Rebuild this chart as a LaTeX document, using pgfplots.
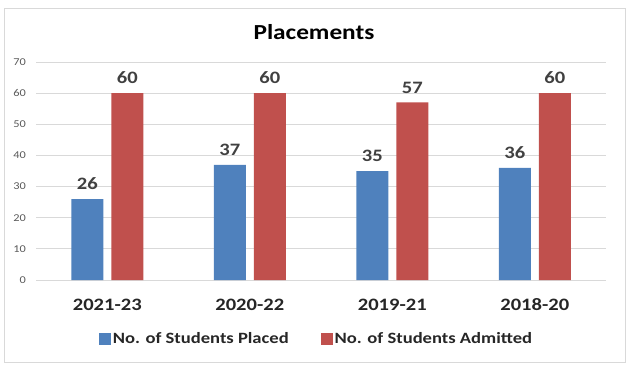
\documentclass[border=0pt]{standalone}
\usepackage{fontspec}
\setmainfont{Carlito}[FakeStretch=1.18]
\usepackage{pgfplots}
\pgfplotsset{compat=1.18}
\definecolor{cblue}{HTML}{4F81BD}
\definecolor{cred}{HTML}{C0504D}
\definecolor{gridc}{HTML}{D9D9D9}
\definecolor{tickc}{HTML}{595959}
\definecolor{lab}{HTML}{404040}
\begin{document}
\begin{tikzpicture}[x=1bp,y=1bp]
\path (0,0) rectangle (630,370);
\draw[gridc, line width=0.75bp] (4,8) rectangle (625,362);
\node[font=\fontsize{21.5}{25}\selectfont\bfseries, text=black] at (314,338) {Placements};
\begin{axis}[
  at={(36bp,90bp)}, anchor=south west,
  scale only axis, width=570bp, height=218bp,
  xmin=-0.5, xmax=3.5, ymin=0, ymax=70,
  ytick={0,10,...,70},
  xtick={0,1,2,3},
  xticklabels={2021-23,2020-22,2019-21,2018-20},
  axis line style={draw=none},
  ymajorgrids, grid style={gridc, line width=0.75bp},
  extra y ticks={0}, extra y tick style={yticklabels={}, grid style={gridc, line width=0.9bp}},
  major tick length=0pt,
  /pgf/number format/assume math mode=true,
  yticklabel style={font=\fontsize{10.5}{12}\selectfont, text=tickc, anchor=east, inner sep=0pt, xshift=-10bp},
  xticklabel style={font=\fontsize{17.5}{20}\selectfont\bfseries, text=black!85, anchor=base, inner sep=0pt, yshift=-30bp},
  ybar, bar width=32bp,
  nodes near coords,
  every node near coord/.append style={font=\fontsize{17.5}{20}\selectfont\bfseries, text=lab, anchor=south, inner sep=0pt, yshift=9bp},
  legend columns=2,
  legend style={draw=none, fill=none, at={(0.492,-0.27)}, anchor=center,
    font=\fontsize{15.8}{20}\selectfont\bfseries, text=black!85,
    nodes={inner xsep=2bp},
    /tikz/every even column/.append style={column sep=30bp}},
  legend image code/.code={\fill[#1] (0bp,-6bp) rectangle (12bp,6bp);},
]
\addplot[fill=cblue, draw=none, bar shift=-20bp] coordinates {(0,26) (1,37) (2,35) (3,36)};
\addlegendentry{No. of Students Placed}
\addplot[fill=cred, draw=none, bar shift=20bp] coordinates {(0,60) (1,60) (2,57) (3,60)};
\addlegendentry{No. of Students Admitted}
\end{axis}
\end{tikzpicture}
\end{document}
